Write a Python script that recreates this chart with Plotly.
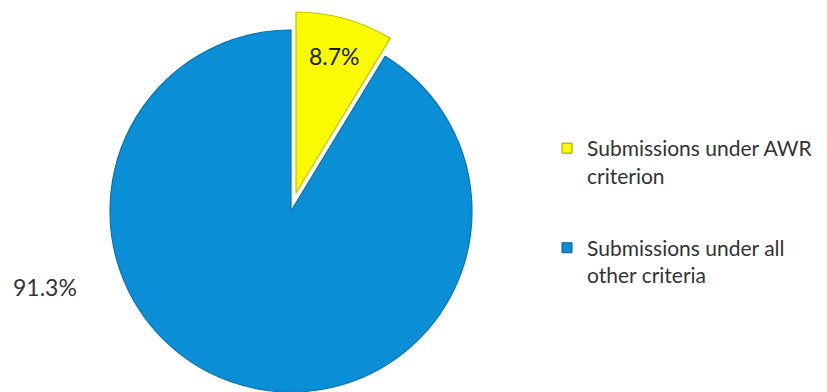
import plotly.graph_objects as go

# ---- data ----
labels = ["Submissions under AWR criterion", "Submissions under all other criteria"]
legend_text = ["Submissions under AWR<br>criterion", "Submissions under all<br>other criteria"]
values = [8.7, 91.3]

# ---- style ----
YELLOW = "#fbfb00"
BLUE = "#0a8fd6"
CLEAR = "rgba(0,0,0,0)"
W, H = 827, 392
FONT = "Lato"


def dom(cx, cy, r):
    return dict(x=[(cx - r) / W, (cx + r) / W], y=[1 - (cy + r) / H, 1 - (cy - r) / H])


fig = go.Figure()

# Main (blue) pie: AWR slice transparent so the pulled-out slice can be drawn separately
fig.add_trace(go.Pie(
    labels=labels, values=values, sort=False, direction="clockwise", rotation=0,
    marker=dict(colors=[CLEAR, BLUE], line=dict(color=[CLEAR, "#0b72b0"], width=[0, 1.2])),
    textinfo="none", hoverinfo="label+percent", showlegend=False,
    domain=dom(291, 211, 181),
))
# Pulled-out AWR slice
fig.add_trace(go.Pie(
    labels=labels, values=values, sort=False, direction="clockwise", rotation=0,
    marker=dict(colors=[YELLOW, CLEAR], line=dict(color=["#c4c400", CLEAR], width=[1.2, 0])),
    textinfo="none", hoverinfo="label+percent", showlegend=False,
    domain=dom(296, 193, 181),
))

# Legend entries
legend_colors = [(YELLOW, "#9a9a00"), (BLUE, "#08578a")]
for i, (lab, (c, lc)) in enumerate(zip(legend_text, legend_colors)):
    fig.add_trace(go.Scatter(
        x=[None], y=[None], mode="markers", name=lab, legendgroup=f"g{i}",
        marker=dict(symbol="square", size=10, color=c, line=dict(color=lc, width=1)),
    ))

# Percentage labels
fig.add_annotation(text=f"{values[0]}%", x=334 / W, y=1 - 56 / H, xref="paper", yref="paper",
                   xanchor="center", yanchor="middle", showarrow=False,
                   font=dict(family=FONT, size=23, color="#1a1a1a"))
fig.add_annotation(text=f"{values[1]}%", x=45 / W, y=1 - 287 / H, xref="paper", yref="paper",
                   xanchor="center", yanchor="middle", showarrow=False,
                   font=dict(family=FONT, size=23, color="#333333"))

fig.update_layout(
    width=W, height=H,
    margin=dict(l=0, r=0, t=0, b=0),
    paper_bgcolor="white", plot_bgcolor="white",
    xaxis=dict(visible=False), yaxis=dict(visible=False),
    showlegend=True,
    legend=dict(
        x=547 / W, xanchor="left", y=1 - 128 / H, yanchor="top",
        traceorder="grouped", tracegroupgap=42, valign="top",
        font=dict(family=FONT, size=21, color="#333333"),
        bgcolor="rgba(0,0,0,0)",
    ),
)

fig.write_html("out.html")
